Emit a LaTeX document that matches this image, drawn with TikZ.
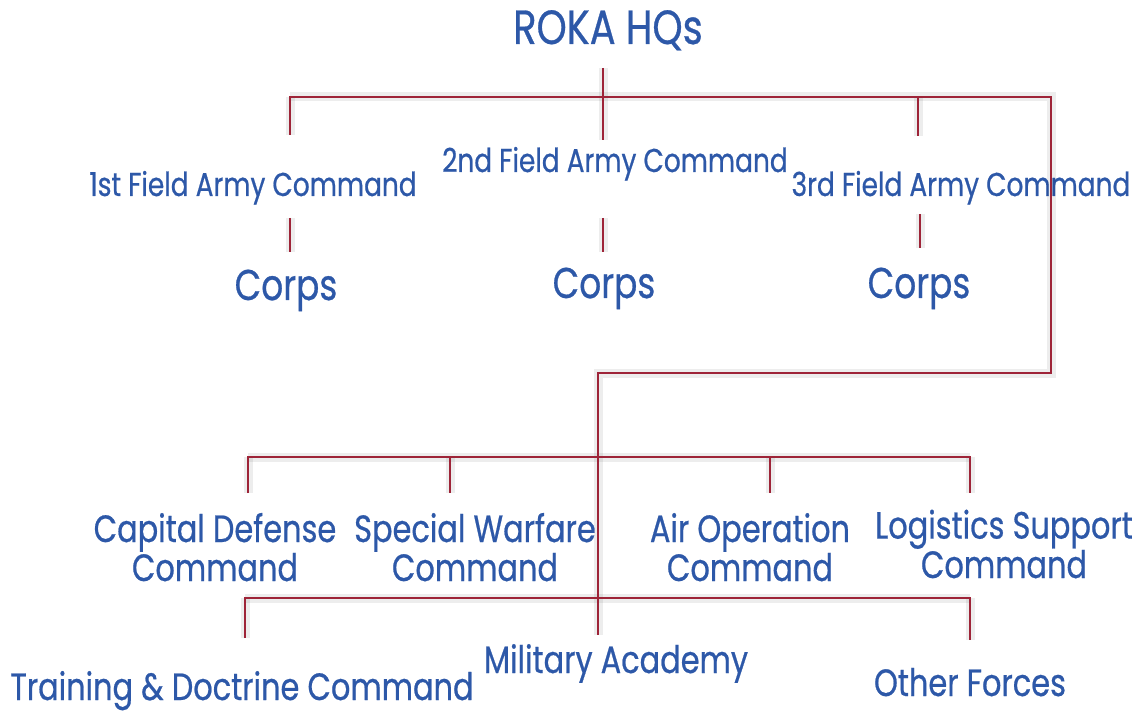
\documentclass[tikz,border=0pt]{standalone}
\usepackage{fontspec}
\newfontfamily\gfont[FakeStretch=0.8,FakeBold=0.6]{Poppins}
\definecolor{txtblue}{RGB}{45,88,168}
\definecolor{linered}{RGB}{158,36,56}
\begin{document}
\begin{tikzpicture}[x=1pt,y=-1pt,
  lbl/.style={text=txtblue, inner sep=0pt, anchor=base, align=center},
  big/.style={lbl, font=\gfont\fontsize{48}{50}\selectfont},
  corps/.style={lbl, font=\gfont\fontsize{43}{45}\selectfont},
  mid/.style={lbl, font=\gfont\fontsize{38}{35}\selectfont},
  sml/.style={lbl, font=\gfont\fontsize{33}{36}\selectfont},
  conn/.style={draw=linered, line width=2.4pt},
  shad/.style={draw=black, opacity=0.07, line width=9pt, shift={(3,6)}}]
\useasboundingbox (0,0) rectangle (1135,711);
% labels
\node[big] (hq) at (608,44) {ROKA HQs};
\node[sml] (fa1) at (253,196) {1st Field Army Command};
\node[sml] (fa2) at (615,172) {2nd Field Army Command};
\node[sml] (fa3) at (961,196) {3rd Field Army Command};
\node[corps] (c1) at (286,300) {Corps};
\node[corps] (c2) at (604,298) {Corps};
\node[corps] (c3) at (919,298) {Corps};
\node[mid] (cdc) at (215,581) {Capital Defense\\Command};
\node[mid] (swc) at (475,581) {Special Warfare\\Command};
\node[mid] (aoc) at (750,581) {Air Operation\\Command};
\node[mid] (lsc) at (1004,578) {Logistics Support\\Command};
\node[mid] (tdc) at (242,700) {Training \& Doctrine Command};
\node[mid] (ma) at (616,673) {Military Academy};
\node[mid] (of) at (970,696) {Other Forces};
% junction coordinates
\coordinate (hqs) at (603,68);
\coordinate (b1l) at (290,97);
\coordinate (b1r) at (1051,97);
\coordinate (b1c) at (918,97);
\coordinate (f1t) at (290,135);
\coordinate (f2t) at (603,140);
\coordinate (f3t) at (918,136);
\coordinate (f1b) at (290,218);
\coordinate (c1t) at (290,252);
\coordinate (f2b) at (603,218);
\coordinate (c2t) at (603,252);
\coordinate (f3b) at (920,214);
\coordinate (c3t) at (920,248);
\coordinate (k1) at (1051,373);
\coordinate (k2) at (598,373);
\coordinate (r3l) at (248,457);
\coordinate (r3r) at (970,457);
\coordinate (r3a) at (450,457);
\coordinate (r3b) at (770,457);
\coordinate (cdct) at (248,493);
\coordinate (swct) at (450,493);
\coordinate (aoct) at (770,493);
\coordinate (lsct) at (970,493);
\coordinate (r4l) at (245,598);
\coordinate (r4r) at (970,598);
\coordinate (tdct) at (245,638);
\coordinate (mat) at (598,635);
\coordinate (oft) at (970,640);
% shadows
\path[shad] (b1l) -- (b1r) -- (k1) -- (k2) -- (mat);
\path[shad] (r3l) -- (r3r);
\path[shad] (r4l) -- (r4r);
\path[shad] (hqs) -- (f2t);
\path[shad] (b1l) -- (f1t);
\path[shad] (b1c) -- (f3t);
\path[shad] (f1b) -- (c1t);
\path[shad] (f2b) -- (c2t);
\path[shad] (f3b) -- (c3t);
\path[shad] (r3l) -- (cdct);
\path[shad] (r3a) -- (swct);
\path[shad] (r3b) -- (aoct);
\path[shad] (r3r) -- (lsct);
\path[shad] (r4l) -- (tdct);
\path[shad] (r4r) -- (oft);
% connectors
\draw[conn] (hqs) -- (f2t);
\draw[conn] (f1t) -- (b1l) -- (b1r) -- (k1) -- (k2) -- (mat);
\draw[conn] (b1c) -- (f3t);
\draw[conn] (f1b) -- (c1t);
\draw[conn] (f2b) -- (c2t);
\draw[conn] (f3b) -- (c3t);
\draw[conn] (cdct) -- (r3l) -- (r3r) -- (lsct);
\draw[conn] (r3a) -- (swct);
\draw[conn] (r3b) -- (aoct);
\draw[conn] (tdct) -- (r4l) -- (r4r) -- (oft);
\end{tikzpicture}
\end{document}
